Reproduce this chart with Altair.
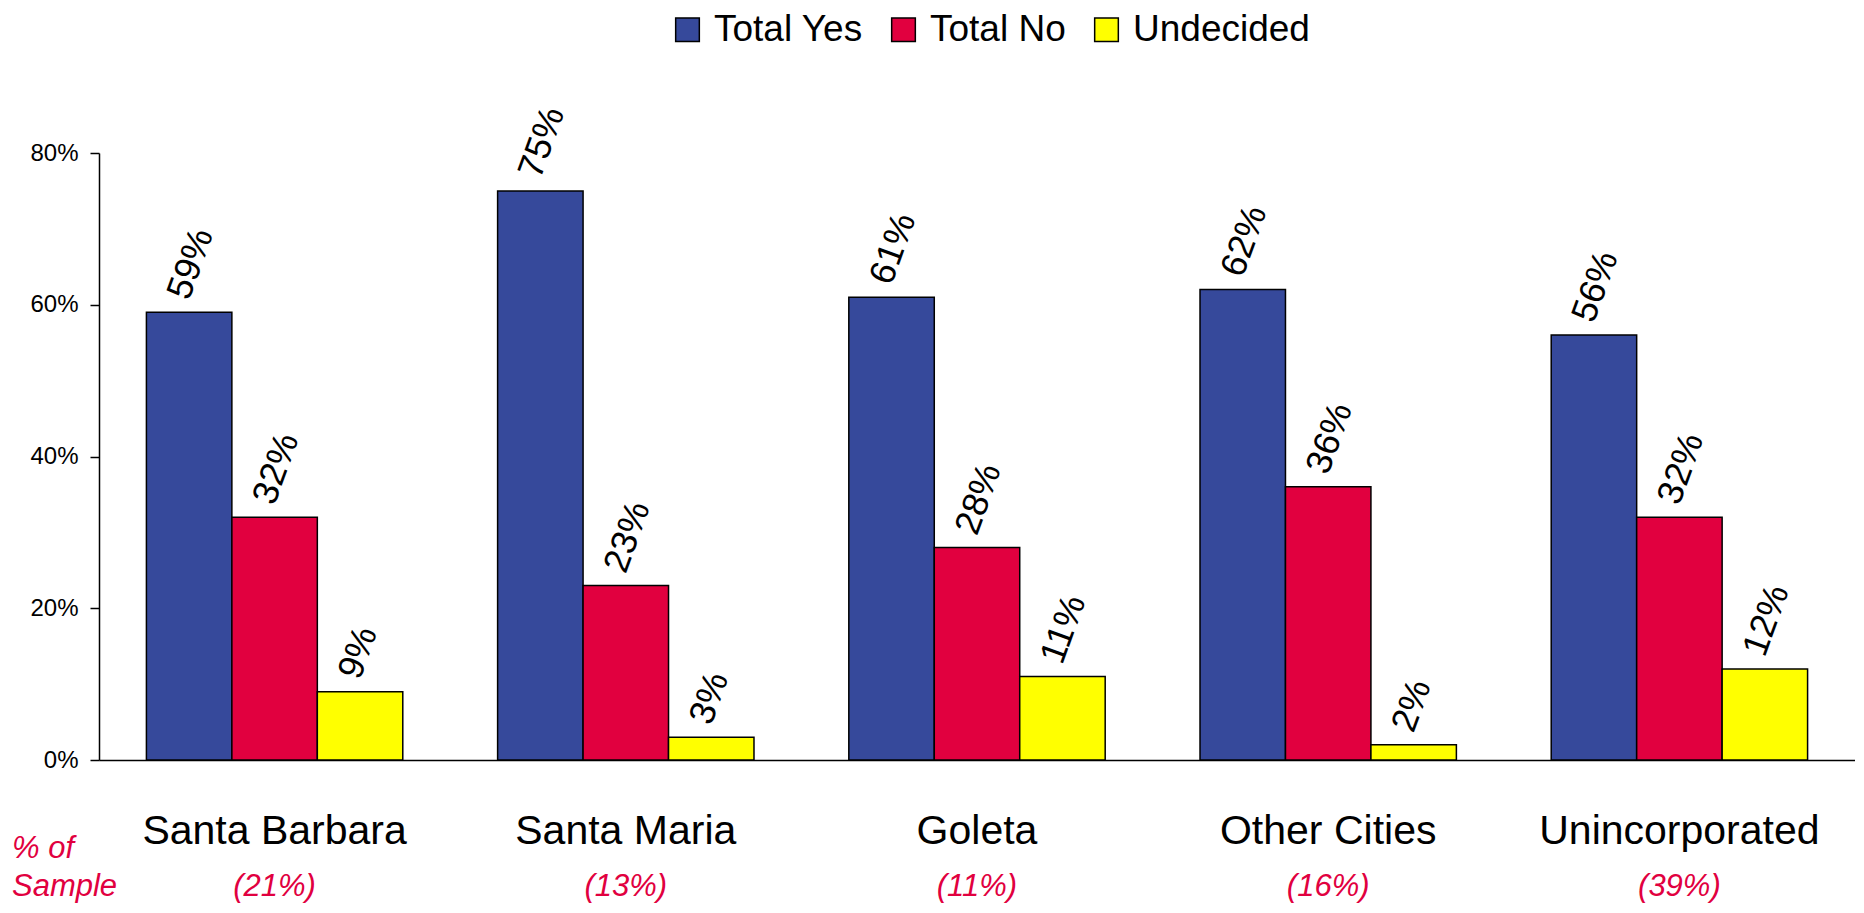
import altair as alt
import pandas as pd

cities = ["Santa Barbara", "Santa Maria", "Goleta", "Other Cities", "Unincorporated"]
series = ["Total Yes", "Total No", "Undecided"]
total_yes = [59, 75, 61, 62, 56]
total_no = [32, 23, 28, 36, 32]
undecided = [9, 3, 11, 2, 12]
sample_share = ["(21%)", "(13%)", "(11%)", "(16%)", "(39%)"]
note_lines = ["% of", "Sample"]
y_ticks = [0, 20, 40, 60, 80]
colors = ["#36499B", "#E1003F", "#FFFF00"]

rows = []
for s, vals in zip(series, [total_yes, total_no, undecided]):
    for c, v in zip(cities, vals):
        rows.append({"city": c, "series": s, "value": v, "label": f"{v}%"})
df = pd.DataFrame(rows)
df_sample = pd.DataFrame({"city": cities, "share": sample_share})
df_note = pd.DataFrame({"note": ["\n".join(note_lines)]})

FONT = "Liberation Sans"
RED = "#E1003F"

x_enc = alt.X(
    "city:N",
    sort=cities,
    scale=alt.Scale(paddingInner=0.27, paddingOuter=0.135),
    axis=alt.Axis(
        title=None, ticks=False, labelAngle=0, labelFontSize=41, labelFont=FONT,
        labelColor="black", labelPadding=51, labelLimit=0, domainColor="black", domainWidth=1.5,
    ),
)
xoff_enc = alt.XOffset("series:N", sort=series, scale=alt.Scale(paddingInner=0, paddingOuter=0))
y_enc = alt.Y(
    "value:Q",
    scale=alt.Scale(domain=[0, 80], nice=False),
    axis=alt.Axis(
        title=None, values=y_ticks, labelExpr="datum.value + '%'", grid=False,
        labelFontSize=24, labelFont=FONT, labelColor="black", labelPadding=12,
        tickSize=9, tickColor="black", tickWidth=1.5, domainColor="black", domainWidth=1.5,
    ),
)

bars = alt.Chart(df).mark_bar(stroke="black", strokeWidth=1.5).encode(
    x=x_enc,
    xOffset=xoff_enc,
    y=y_enc,
    color=alt.Color(
        "series:N",
        sort=series,
        scale=alt.Scale(domain=series, range=colors),
        legend=alt.Legend(
            title=None, orient="none", direction="horizontal", legendX=570, legendY=-142,
            symbolType="square", symbolSize=560, symbolStrokeColor="black", symbolStrokeWidth=1.5,
            symbolOpacity=1, labelFontSize=37, labelFont=FONT, labelColor="black",
            labelOffset=8, columnPadding=22, padding=0, labelLimit=0,
        ),
    ),
)

labels = alt.Chart(df).mark_text(
    angle=290, align="left", baseline="middle", dx=10, dy=-15,
    fontSize=36, font=FONT, color="black",
).encode(
    x=alt.X("city:N", sort=cities),
    xOffset=alt.XOffset("series:N", sort=series),
    y="value:Q",
    text="label:N",
)

shares = alt.Chart(df_sample).mark_text(
    fontSize=31, font=FONT, fontStyle="italic", color=RED, baseline="middle",
).encode(
    x=alt.X("city:N", sort=cities),
    y=alt.value(734),
    text="share:N",
)

note = alt.Chart(df_note).mark_text(
    fontSize=31, font=FONT, fontStyle="italic", color=RED, align="left",
    baseline="middle", lineBreak="\n", lineHeight=38,
).encode(
    x=alt.value(-87),
    y=alt.value(696),
    text="note:N",
)

chart = alt.layer(bars, labels, shares, note).properties(
    width=1756, height=607,
    autosize=alt.AutoSizeParams(type="none"),
    padding={"left": 91, "top": 145, "right": 0, "bottom": 145},
).configure_view(stroke=None)

chart.save("out.html", embed_options={"renderer": "svg", "actions": False})
